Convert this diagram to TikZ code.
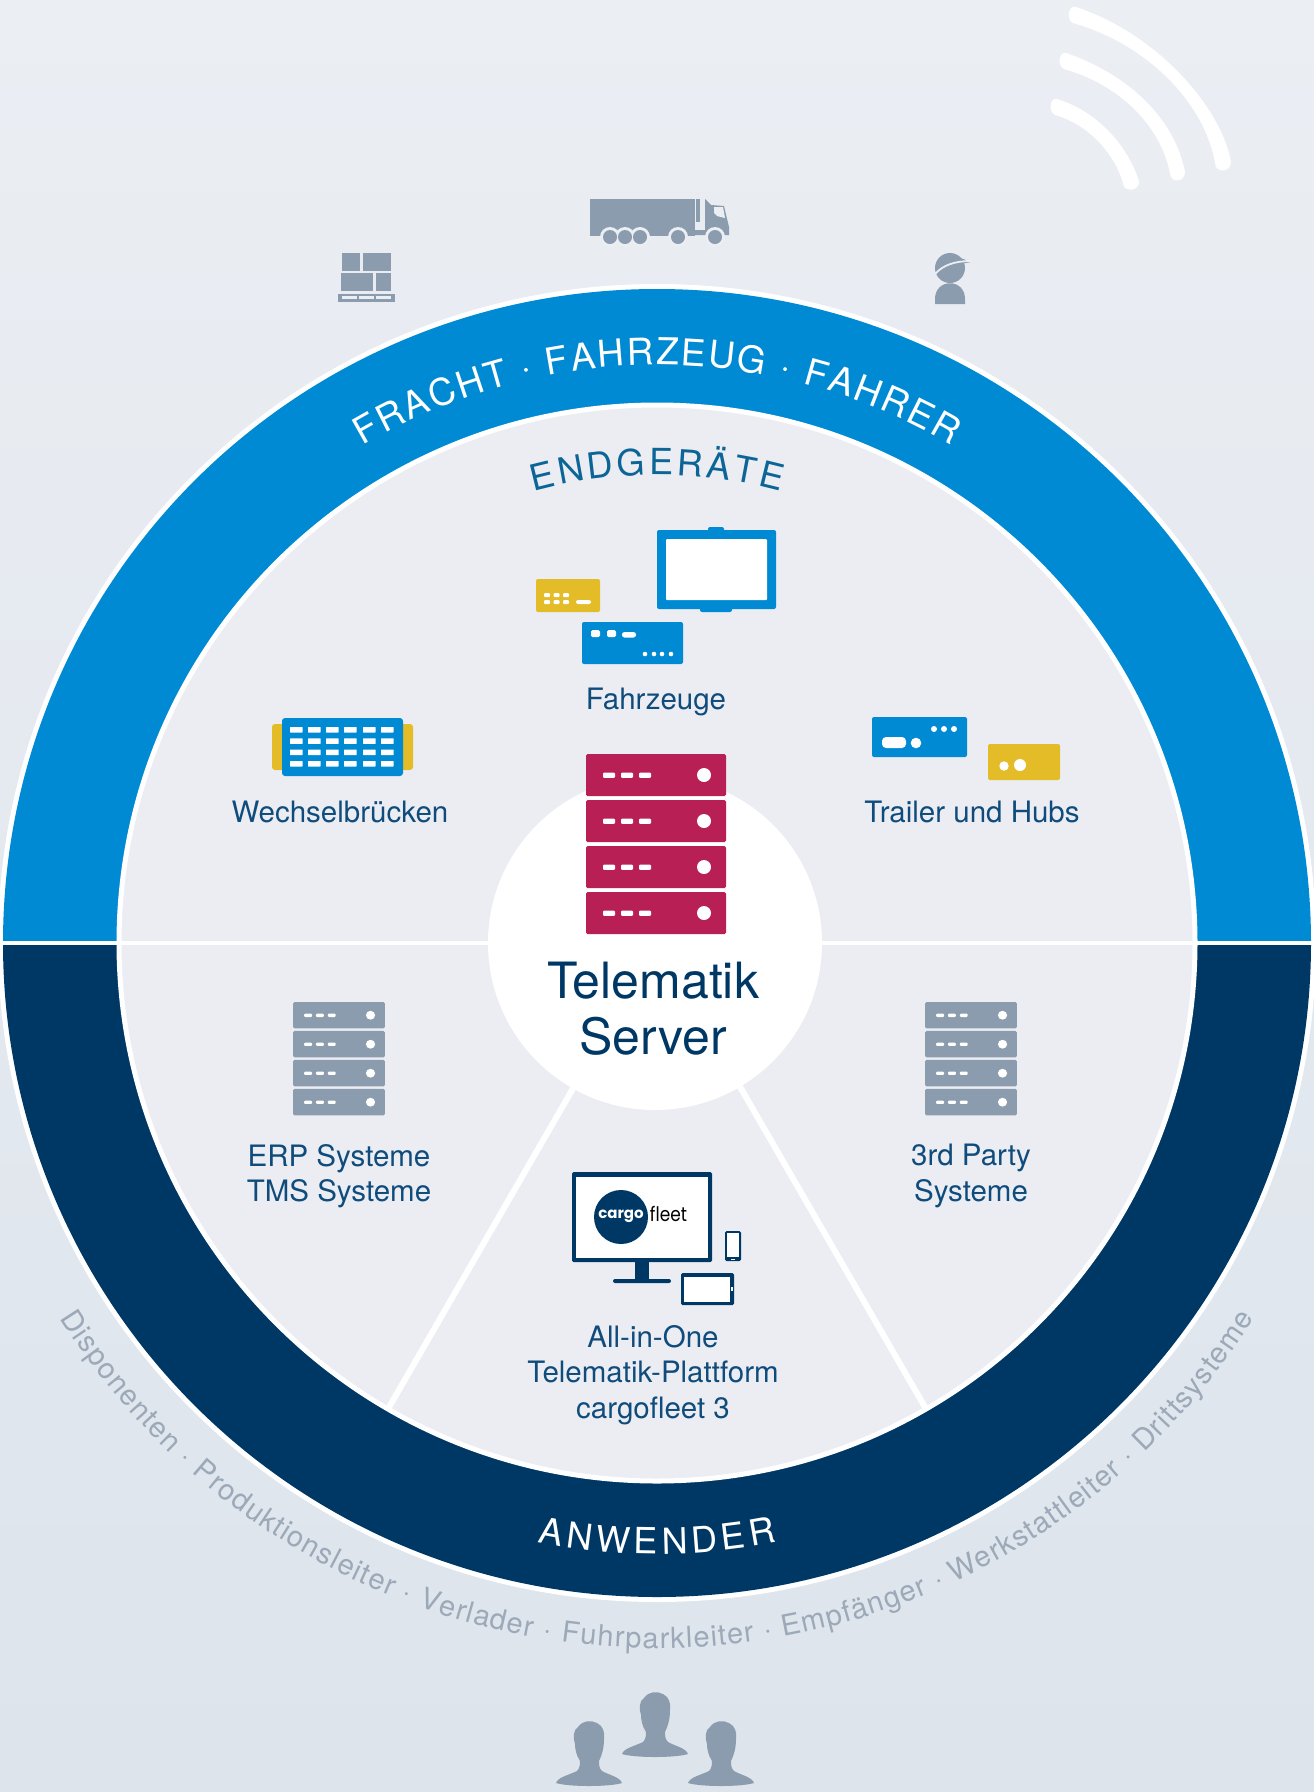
\documentclass[tikz,border=0pt]{standalone}
\usepackage{fontspec}
\usetikzlibrary{positioning,decorations.text}
\setmainfont{TeX Gyre Heros}
\newfontfamily\logofont{Poppins}
\definecolor{bgtop}{HTML}{EBEEF3}
\definecolor{bgbot}{HTML}{DDE4EC}
\definecolor{inner}{HTML}{ECEDF3}
\definecolor{cfblue}{HTML}{008AD3}
\definecolor{cfnavy}{HTML}{003865}
\definecolor{cfslate}{HTML}{8A9CAE}
\definecolor{cfred}{HTML}{B81F54}
\definecolor{cfyellow}{HTML}{E3BC28}
\definecolor{cftext}{HTML}{0F4C7C}
\definecolor{cfteal}{HTML}{0B6597}
\definecolor{cfrim}{HTML}{9CA9B8}

\tikzset{
  serverstack/.pic={
    \foreach \r in {0,...,3} {
      \fill[pic actions, rounded corners=1.5] (0,-46*\r) rectangle ++(140,-42);
      \fill[white, rounded corners=1] (17,-46*\r-18.5) rectangle ++(12,-5.3);
      \fill[white, rounded corners=1] (35,-46*\r-18.5) rectangle ++(12,-5.3);
      \fill[white, rounded corners=1] (53,-46*\r-18.5) rectangle ++(12,-5.3);
      \fill[white] (118,-46*\r-21) circle[radius=7];
    }
  },
  person/.pic={
    \fill[cfslate] (-33,3) .. controls (-31,9) and (-20,11) .. (-12,15)
      .. controls (-9,18) and (-9,22) .. (-9,25)
      .. controls (-13,31) and (-14,38) .. (-14,42)
      .. controls (-16,48) and (-16,56) .. (-11,59)
      .. controls (-6,66) and (2,66) .. (8,63)
      .. controls (14,60) and (16,54) .. (15,47)
      .. controls (15,38) and (13,31) .. (10,25)
      .. controls (10,21) and (10,18) .. (13,15)
      .. controls (20,11) and (31,9) .. (33,3)
      .. controls (20,-1) and (-20,-1) .. (-33,3) -- cycle;
  },
  label/.style={text=cftext, font=\fontsize{29.5}{35.5}\selectfont, align=center, inner sep=0pt},
  bigtext/.style={text=cfnavy, font=\fontsize{50}{56}\selectfont, align=center, inner sep=0pt},
  spoke/.style={white, line width=6},
  arctext/.style n args={4}{decorate, decoration={text effects along path, text={#1},
      text align=center, text effects/.cd,
      characters={text along path, text=#2, font=\fontsize{#3}{#3}\selectfont},
      character widths={text along path, font=\fontsize{#3}{#3}\selectfont, inner xsep=#4}}}
}

\begin{document}
\begin{tikzpicture}[x=1pt,y=1pt]
  \useasboundingbox (0,0) rectangle (1314,-1792);
  \shade[top color=bgtop, bottom color=bgbot] (0,0) rectangle (1314,-1792);

  % wifi waves
  \fill[white] (1076,-7) .. controls (1160,-35) and (1222,-110) .. (1231,-162)
    .. controls (1231,-173) and (1215,-173) .. (1215,-163)
    .. controls (1205,-105) and (1150,-45) .. (1073,-23)
    .. controls (1066,-20) and (1068,-5) .. (1076,-7) -- cycle;
  \fill[white] (1066,-53) .. controls (1130,-75) and (1175,-120) .. (1185,-172)
    .. controls (1185,-183) and (1170,-183) .. (1170,-173)
    .. controls (1160,-125) and (1120,-85) .. (1064,-69)
    .. controls (1057,-66) and (1059,-51) .. (1066,-53) -- cycle;
  \fill[white] (1057,-99) .. controls (1100,-112) and (1130,-150) .. (1139,-182)
    .. controls (1139,-192) and (1123,-192) .. (1123,-183)
    .. controls (1115,-155) and (1090,-125) .. (1055,-115)
    .. controls (1048,-112) and (1050,-97) .. (1057,-99) -- cycle;

  % pallet
  \begin{scope}[cfslate]
    \fill (342,-253) rectangle (360,-271);
    \fill (363,-253) rectangle (391,-271);
    \fill (341,-273) rectangle (373,-291);
    \fill (376,-273) rectangle (391,-291);
    \fill (338,-294) rectangle (395,-302);
  \end{scope}
  \foreach \x in {342,359,376} \fill[bgtop] (\x,-296) rectangle ++(15,-3);

  % truck
  \fill[cfslate] (590,-199) rectangle (695,-236);
  \fill[cfslate] (696,-199) rectangle (700,-222);
  \fill[cfslate] (705,-199) -- (711,-205) -- (724,-206) -- (729,-227) -- (729,-235)
    -- (685,-235) -- (685,-230) -- (705,-230) -- cycle;
  \fill[bgtop] (714,-207) -- (723,-207) -- (725,-218) -- (717,-216) -- (714,-213) -- cycle;
  \foreach \x in {610,625,640,678,715} \fill[bgtop] (\x,-237) circle[radius=10];
  \foreach \x in {610,625,640,678,715} \fill[cfslate] (\x,-237) circle[radius=7];

  % driver
  \fill[cfslate] (950,-268) circle[radius=15];
  \fill[cfslate] (950,-254) -- (971,-262) -- (950,-266) -- cycle;
  \draw[bgtop, line width=1.8] (935,-274) .. controls (943,-265) and (955,-261) .. (971,-261);
  \fill[cfslate] (935,-304) -- (935,-299) .. controls (935,-278) and (965,-278) .. (965,-299)
    -- (965,-304) -- cycle;

  % rings
  \fill[white] (657,-943) circle[radius=659];
  \fill[cfblue] (3,-943) arc[start angle=180,end angle=0,radius=654] -- cycle;
  \fill[cfnavy] (3,-943) arc[start angle=180,end angle=360,radius=654] -- cycle;
  \draw[white, line width=4.5] (0,-943) -- (1314,-943);
  \draw[white, line width=5, fill=inner] (657,-943) circle[radius=538];
  \draw[white, line width=4.5] (119,-943) -- (1195,-943);
  \draw[spoke] (657,-943) -- ++(240:538);
  \draw[spoke] (657,-943) -- ++(300:538);
  \fill[white] (655,-943) circle[radius=167];

  % ring lettering
  \path[arctext={FRACHT · FAHRZEUG · FAHRER}{white}{37}{1pt}]
    (657,-943) ++(150:578) arc[start angle=150,end angle=30,radius=578];
  \path[arctext={ENDGERÄTE}{cfteal}{36}{1.6pt}]
    (657,-943) ++(130:468) arc[start angle=130,end angle=50,radius=468];
  \path[arctext={ANWENDER}{white}{36}{2.2pt}]
    (657,-943) ++(230:611) arc[start angle=230,end angle=310,radius=611];
  \path[arctext={Disponenten · Produktionsleiter · Verlader · Fuhrparkleiter · Empfänger · Werkstattleiter · Drittsysteme}{cfrim}{29}{.6pt}]
    (657,-943) ++(205:705) arc[start angle=205,end angle=335,radius=705];

  % vehicle devices
  \fill[cfblue, rounded corners=2] (708,-527) rectangle (724,-535);
  \fill[cfblue, rounded corners=2] (700,-600) rectangle (732,-612);
  \fill[cfblue, rounded corners=2] (657,-530) rectangle (776,-609);
  \fill[white, rounded corners=1] (666,-539) rectangle (767,-600);
  \fill[cfyellow, rounded corners=2] (536,-579) rectangle (600,-612);
  \foreach \x in {544,553.5,563} \foreach \y in {-593,-600}
    \fill[white, rounded corners=1] (\x,\y) rectangle ++(6,-4);
  \fill[white, rounded corners=2] (576,-600) rectangle (591,-604);
  \fill[cfblue, rounded corners=2] (582,-622) rectangle (683,-664);
  \fill[white, rounded corners=1.5] (591,-630) rectangle ++(9,-7);
  \fill[white, rounded corners=1.5] (607,-630) rectangle ++(9,-7);
  \fill[white, rounded corners=2.5] (622,-632) rectangle (636,-637.5);
  \foreach \x in {645,654,662,671} \fill[white] (\x,-654) circle[radius=2.3];

  % swap body
  \fill[cfyellow, rounded corners=3] (272,-724) rectangle (413,-770);
  \fill[cfblue, rounded corners=3] (282,-718) rectangle (403,-776);
  \foreach \x in {290,308,326,344,363,381} \foreach \y in {-727,-738.3,-749.6,-761}
    \fill[white, rounded corners=.5] (\x,\y) rectangle ++(12.7,-5.5);

  % trailer devices
  \fill[cfblue, rounded corners=2] (872,-717) rectangle (967,-757);
  \fill[white, rounded corners=4] (882,-737) rectangle (906,-748);
  \fill[white] (916,-743) circle[radius=5.3];
  \foreach \x in {934,944,954} \fill[white] (\x,-729) circle[radius=3];
  \fill[cfyellow, rounded corners=2] (988,-744) rectangle (1060,-780);
  \fill[white] (1004,-766) circle[radius=4.7];
  \fill[white] (1020,-765) circle[radius=6];

  % servers
  \pic[fill=cfred] at (586,-754) {serverstack};
  \pic[fill=cfslate, xscale=.657, yscale=.63] at (293,-1002) {serverstack};
  \pic[fill=cfslate, xscale=.657, yscale=.63] at (925,-1002) {serverstack};

  % cargofleet screens
  \fill[cfnavy, rounded corners=1.5] (572,-1172) rectangle (712,-1262);
  \fill[white] (576,-1177) rectangle (708,-1258);
  \fill[cfnavy] (635,-1262) rectangle (649,-1280);
  \fill[cfnavy, rounded corners=2] (613,-1279) rectangle (671,-1283);
  \fill[cfnavy] (621,-1217) circle[radius=27];
  \node[text=white, inner sep=0pt, font=\fontsize{15}{15}\logofont\bfseries] (cargo) at (621,-1216) {cargo};
  \node[text=black, inner sep=0pt, xscale=.85, font=\fontsize{20}{20}\logofont] (fleet) at (668.5,-1214) {fleet};
  \fill[cfnavy, rounded corners=1.5] (725,-1231) rectangle (741,-1261);
  \fill[white] (727,-1233) rectangle (739,-1257);
  \fill[white] (731,-1258.5) rectangle (735,-1260);
  \fill[cfnavy, rounded corners=1.5] (681,-1273) rectangle (734,-1305);
  \fill[white] (684,-1277) rectangle (730,-1302);
  \fill[white] (731,-1287) rectangle (732.5,-1291);

  % users
  \pic at (655,-1757) {person};
  \pic at (589,-1786) {person};
  \pic at (721,-1786) {person};

  % labels
  \node[label] (fahrzeuge) at (656,-702) {Fahrzeuge};
  \node[label] (wechsel) at (340,-812) {Wechselbrücken};
  \node[label] (trailer) at (972,-812) {Trailer und Hubs};
  \node[bigtext] (telematik) at (653,-1008.5) {Telematik\\Server};
  \node[label] (erp) at (339,-1176) {ERP Systeme\\TMS Systeme};
  \node[label] (party) at (971,-1176) {3rd Party\\Systeme};
  \node[label] (allinone) at (653,-1375) {All-in-One\\Telematik-Plattform\\cargofleet 3};
\end{tikzpicture}
\end{document}
